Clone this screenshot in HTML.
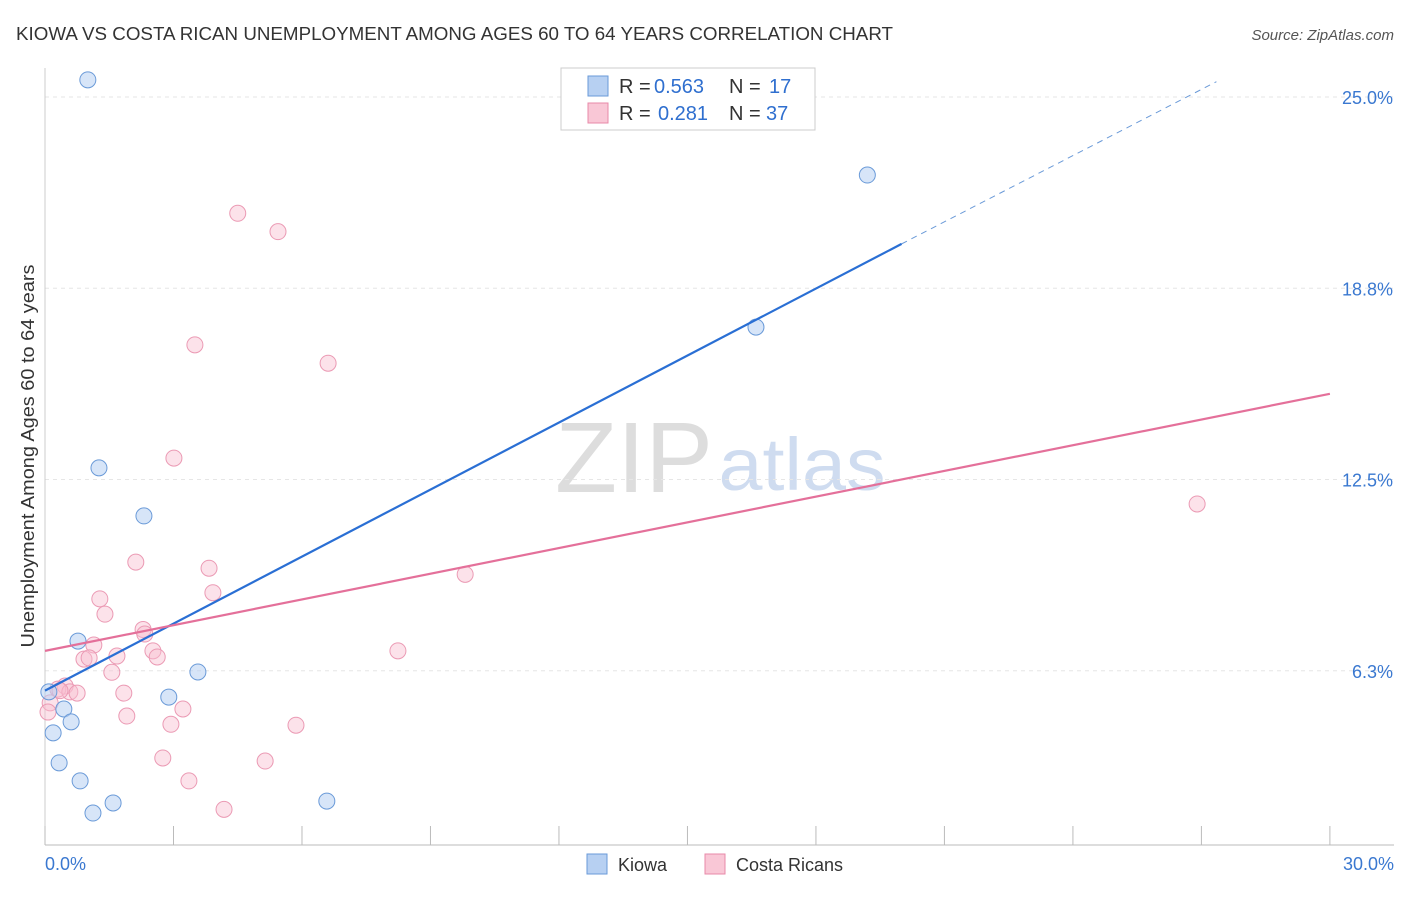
<!DOCTYPE html>
<html><head><meta charset="utf-8"><style>
body{margin:0;background:#fff;font-family:"Liberation Sans",sans-serif}
svg text{font-family:"Liberation Sans",sans-serif}
</style></head><body>
<svg id="c" width="1406" height="892">
<text x="16" y="40" font-size="18" fill="#333" textLength="877" lengthAdjust="spacingAndGlyphs">KIOWA VS COSTA RICAN UNEMPLOYMENT AMONG AGES 60 TO 64 YEARS CORRELATION CHART</text>
<text x="1394" y="40" font-size="15" fill="#555" text-anchor="end" font-style="italic">Source: ZipAtlas.com</text>
<text x="34" y="456" font-size="18" fill="#333" text-anchor="middle" textLength="383" lengthAdjust="spacingAndGlyphs" transform="rotate(-90 34 456)">Unemployment Among Ages 60 to 64 years</text>
<text x="634" y="492" font-size="100" fill="#ddd" text-anchor="middle" font-family="Liberation Serif" textLength="158" lengthAdjust="spacingAndGlyphs">ZIP</text>
<text x="802" y="490" font-size="74" fill="#cfdcf0" text-anchor="middle" textLength="167" lengthAdjust="spacingAndGlyphs">atlas</text>
<g id="grid"></g><g id="marks"></g>
<g>
<rect x="561" y="68" width="254" height="62" fill="#fff" stroke="#ccc"/>
<rect x="588" y="76" width="20" height="20" fill="#b7d0f2" stroke="#6a9ad8"/>
<rect x="588" y="103" width="20" height="20" fill="#f9c7d6" stroke="#e88aa8"/>
<text x="619" y="93" font-size="20" fill="#333">R =</text>
<text x="654" y="93" font-size="20" fill="#2f6fcf">0.563</text>
<text x="729" y="93" font-size="20" fill="#333">N =</text>
<text x="769" y="93" font-size="20" fill="#2f6fcf">17</text>
<text x="619" y="120" font-size="20" fill="#333">R =</text>
<text x="658" y="120" font-size="20" fill="#2f6fcf">0.281</text>
<text x="729" y="120" font-size="20" fill="#333">N =</text>
<text x="766" y="120" font-size="20" fill="#2f6fcf">37</text>
</g>
<g>
<rect x="587" y="854" width="20" height="20" fill="#b7d0f2" stroke="#6a9ad8"/>
<text x="618" y="871" font-size="18" fill="#333">Kiowa</text>
<rect x="705" y="854" width="20" height="20" fill="#f9c7d6" stroke="#e88aa8"/>
<text x="736" y="871" font-size="18" fill="#333">Costa Ricans</text>
</g>
</svg>
<script>
const yTicks=[6.25,12.5,18.75,25];
const yTickLabels=["6.3%","12.5%","18.8%","25.0%"];
const xTicks=[0,3,6,9,12,15,18,21,24,27,30];
const kiowaX=[1.0,19.2,16.6,1.26,2.31,0.77,3.57,0.09,2.89,0.44,0.61,0.19,0.33,0.82,1.59,1.12,6.58];
const kiowaY=[25.56,22.45,17.48,12.88,11.31,7.22,6.21,5.56,5.39,5.0,4.58,4.22,3.24,2.65,1.93,1.6,1.99];
const crX=[4.5,5.44,3.5,6.61,3.01,26.9,2.12,3.83,9.81,3.92,1.28,1.4,2.29,2.33,1.14,2.52,8.24,2.62,0.91,1.03,1.68,1.56,0.47,0.30,0.58,0.75,1.84,0.12,0.07,1.91,3.22,2.94,5.86,2.75,5.14,3.36,4.18,0.35];
const crY=[21.2,20.6,16.9,16.3,13.2,11.7,9.8,9.6,9.4,8.8,8.6,8.1,7.6,7.45,7.09,6.9,6.9,6.7,6.63,6.67,6.73,6.2,5.75,5.65,5.56,5.52,5.52,5.2,4.9,4.77,5.0,4.5,4.47,3.4,3.3,2.65,1.72,5.6];
const blueLine=[[0,5.6],[20,20.2]], blueDash=[[20,20.2],[27.35,25.5]];
const pinkLine=[[0,6.9],[30,15.3]];
const X=v=>45+v*42.83, Y=v=>862-v*30.6;
const ns="http://www.w3.org/2000/svg";
function mk(t,a,p){const e=document.createElementNS(ns,t);for(const k in a)e.setAttribute(k,a[k]);p.appendChild(e);return e;}
const g=document.getElementById('grid'), m=document.getElementById('marks');
yTicks.forEach((t,i)=>{const l=mk('line',{x1:45,x2:1394,y1:Y(t),y2:Y(t),stroke:'#e6e6e6','stroke-dasharray':'4,4'},g);

const tx=mk('text',{x:1393,y:Y(t)+7,'font-size':18,fill:'#3a78d0','text-anchor':'end'},g);tx.textContent=yTickLabels[i];
});
const ax=mk('line',{x1:45,x2:1394,y1:845,y2:845,stroke:'#bbb'},g);
const ay=mk('line',{x1:45,x2:45,y1:68,y2:845,stroke:'#ccc'},g);
xTicks.forEach(t=>{const l=mk('line',{x1:X(t),x2:X(t),y1:826,y2:845,stroke:'#bbb'},g);});
[[0,'0.0%','start',45],[30,'30.0%','end',1394]].forEach(a=>{const t=mk('text',{x:a[3],y:870,'font-size':18,fill:'#3a78d0','text-anchor':a[2]},g);t.textContent=a[1];});
crX.forEach((x,i)=>{const c=mk('circle',{cx:X(x),cy:Y(crY[i]),r:8,fill:'rgba(249,190,208,0.45)',stroke:'#eb9ab4','stroke-width':1},m);});
kiowaX.forEach((x,i)=>{const c=mk('circle',{cx:X(x),cy:Y(kiowaY[i]),r:8,fill:'rgba(183,208,242,0.55)',stroke:'#6a9ad8','stroke-width':1},m);});
let l=mk('line',{x1:X(blueLine[0][0]),y1:Y(blueLine[0][1]),x2:X(blueLine[1][0]),y2:Y(blueLine[1][1]),stroke:'#2a6fd4','stroke-width':2.2},m);
l=mk('line',{x1:X(blueDash[0][0]),y1:Y(blueDash[0][1]),x2:X(blueDash[1][0]),y2:Y(blueDash[1][1]),stroke:'#6a9ad8','stroke-width':1,'stroke-dasharray':'6,5'},m);
l=mk('line',{x1:X(pinkLine[0][0]),y1:Y(pinkLine[0][1]),x2:X(pinkLine[1][0]),y2:Y(pinkLine[1][1]),stroke:'#e4709a','stroke-width':2.2},m);
</script>
</body></html>
